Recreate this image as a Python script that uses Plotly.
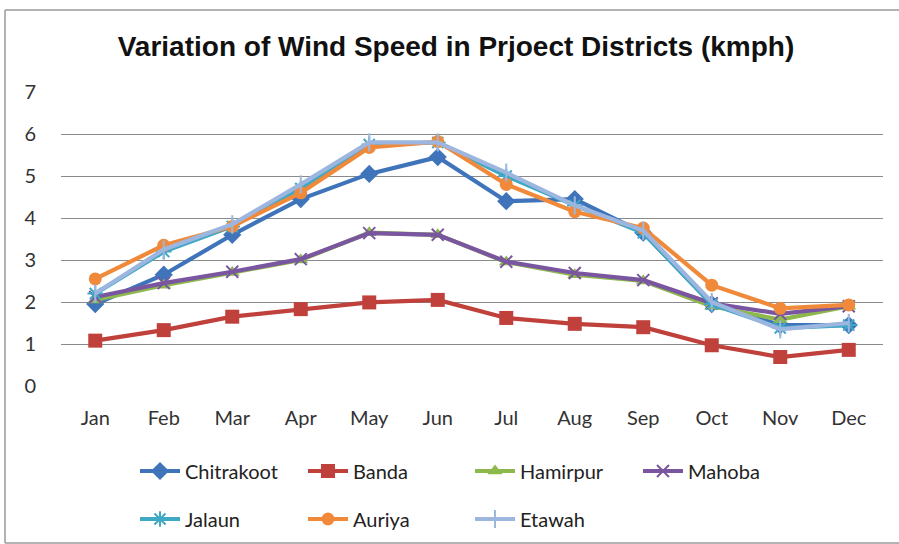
import plotly.graph_objects as go

months = ["Jan", "Feb", "Mar", "Apr", "May", "Jun", "Jul", "Aug", "Sep", "Oct", "Nov", "Dec"]
chitrakoot = [1.95, 2.65, 3.6, 4.45, 5.05, 5.45, 4.4, 4.45, 3.65, 1.95, 1.45, 1.45]
banda = [1.08, 1.33, 1.65, 1.83, 1.99, 2.05, 1.62, 1.48, 1.40, 0.97, 0.69, 0.86]
hamirpur = [2.05, 2.4, 2.7, 3.0, 3.65, 3.6, 2.95, 2.65, 2.5, 1.9, 1.58, 1.9]
mahoba = [2.12, 2.45, 2.72, 3.02, 3.64, 3.6, 2.96, 2.69, 2.52, 1.97, 1.72, 1.9]
jalaun = [2.2, 3.2, 3.8, 4.7, 5.75, 5.8, 5.0, 4.3, 3.65, 1.95, 1.38, 1.45]
auriya = [2.55, 3.35, 3.8, 4.6, 5.68, 5.82, 4.8, 4.15, 3.76, 2.4, 1.85, 1.93]
etawah = [2.2, 3.25, 3.85, 4.8, 5.8, 5.8, 5.08, 4.3, 3.7, 2.0, 1.35, 1.5]

series = [
    ("Chitrakoot", chitrakoot, "#3F74BB", "diamond", 14, "legend"),
    ("Banda", banda, "#C0403B", "square", 14, "legend2"),
    ("Hamirpur", hamirpur, "#8DB84C", "triangle-up", 13, "legend3"),
    ("Mahoba", mahoba, "#7A56A0", "x-thin-open", 12, "legend4"),
    ("Jalaun", jalaun, "#3FA8C4", "asterisk-open", 13, "legend5"),
    ("Auriya", auriya, "#F08A3A", "circle", 13, "legend6"),
    ("Etawah", etawah, "#9DB6E0", "line-ns-open", 13, "legend7"),
]

fig = go.Figure()
for name, vals, col, sym, sz, lg in series:
    open_sym = sym.endswith("open")
    fig.add_trace(go.Scatter(
        x=months, y=vals, name=name, mode="lines+markers",
        line=dict(color=col, width=4.2),
        marker=dict(symbol=sym, size=sz, color=col,
                    line=dict(color=col, width=2 if open_sym else 0)),
        legend=lg, showlegend=True,
    ))

L, R, T, B = 61, 883, 92, 386
W, H = 899, 544
pw, ph = R - L, B - T

def px(x):
    return (x - L) / pw

def py(y):
    return (B - y) / ph

font = "Lato, Calibri, sans-serif"
leg_pos = {
    "legend": (135, 471), "legend2": (303, 471), "legend3": (470, 471), "legend4": (638, 471),
    "legend5": (135, 519), "legend6": (303, 519), "legend7": (470, 519),
}
layout_legs = {}
for k, (x, y) in leg_pos.items():
    layout_legs[k] = dict(x=px(x), y=py(y), xanchor="left", yanchor="middle", visible=True,
                          bgcolor="rgba(0,0,0,0)", font=dict(family=font, size=20, color="#222"),
                          itemwidth=40)

border = dict(color="#9a9a9a", width=1.5)
bx0, bx1, by0, by1 = px(5), px(899), py(543), py(10)
shapes = [
    dict(type="line", xref="paper", yref="paper", x0=bx0, x1=bx0, y0=by0, y1=by1, line=border),
    dict(type="line", xref="paper", yref="paper", x0=bx0, x1=bx1, y0=by1, y1=by1, line=border),
    dict(type="line", xref="paper", yref="paper", x0=bx0, x1=bx1, y0=by0, y1=by0, line=border),
]

fig.update_layout(
    width=W, height=H,
    showlegend=True,
    margin=dict(l=L, r=W - R, t=T, b=H - B, autoexpand=False),
    paper_bgcolor="white", plot_bgcolor="white",
    title=dict(text="<b>Variation of Wind Speed in Prjoect Districts (kmph)</b>",
               x=px(456), xanchor="center", xref="paper", y=1 - 46 / H, yanchor="middle",
               font=dict(family="Liberation Sans, Arial, sans-serif", size=28, color="#111")),
    xaxis=dict(showgrid=False, showline=False, ticks="", range=[-0.5, 11.5], automargin=False,
               ticklabelstandoff=18, tickfont=dict(family=font, size=20, color="#333")),
    yaxis=dict(range=[0, 7], dtick=1, showgrid=True, gridcolor="#8a8a8a", gridwidth=1, automargin=False,
               zeroline=False, showline=False, ticks="", ticklabelstandoff=24,
               tickfont=dict(family=font, size=20, color="#333")),
    shapes=shapes,
    **layout_legs,
)

fig.write_html("out.html", config={"displayModeBar": False},
               post_script="document.body.style.margin='0';document.body.style.overflow='hidden';")
